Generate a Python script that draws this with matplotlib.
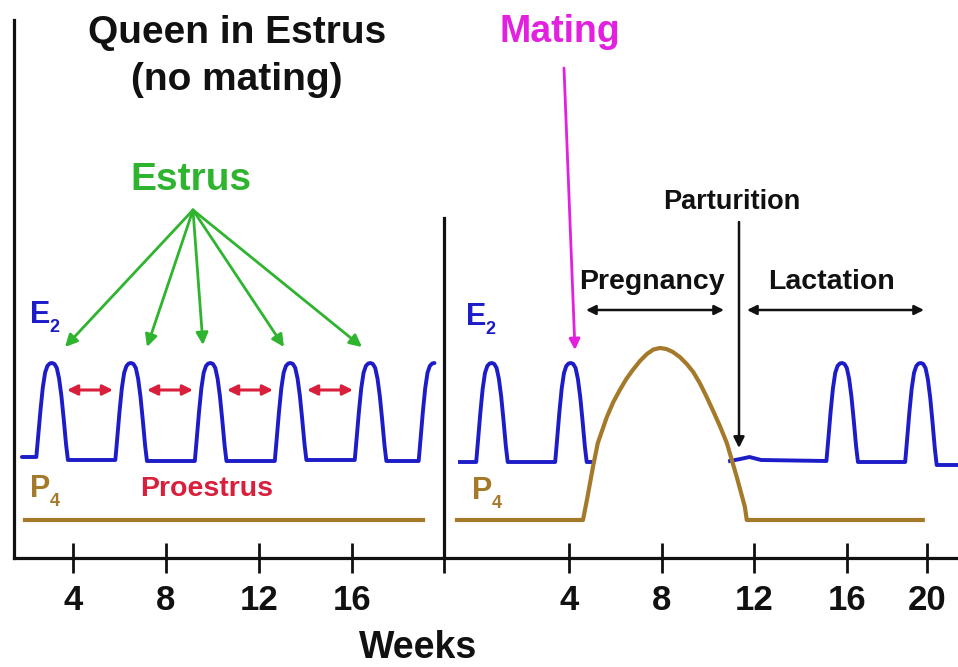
import numpy as np
import matplotlib
matplotlib.use("Agg")
import matplotlib.pyplot as plt

plt.rcParams['font.family'] = ['Liberation Sans', 'DejaVu Sans']
plt.rcParams['font.weight'] = 'bold'

W, H = 958, 667

# ---------------- data ----------------
# hormone level units: arbitrary (baseline E2 ~10, peak ~19.5)
# Left panel (queen in estrus, no mating)
left_e2_start = 1.8
left_e2_end = 19.55
left_e2_peaks = [3.1, 6.5, 9.92, 13.36, 16.8, 19.55]
left_e2_bases = [10.1, 9.8, 9.7, 9.7, 9.8, 9.7, 9.7]
e2_peak_level = 19.5

# Peak profile (offset in weeks, fraction of peak height)
peak_offsets = [-0.68, -0.6, -0.5, -0.4, -0.3, -0.2, -0.1, 0.0, 0.1, 0.2, 0.3, 0.4, 0.5, 0.6, 0.68]
peak_fracs = [0.0, 0.22, 0.5, 0.74, 0.9, 0.97, 0.995, 1.0, 0.99, 0.95, 0.84, 0.66, 0.42, 0.16, 0.0]

left_p4_weeks = [1.94, 19.05]
left_p4_level = [3.8, 3.8]

# Right panel (mating, pregnancy, lactation)
right_e2_seg1 = dict(start=-0.7, end=5.05, peaks=[0.68, 4.09], bases=[9.6, 9.6, 9.6])
right_e2_seg2 = dict(start=10.96, end=20.8, peaks=[15.8, 19.2], bases=[9.7, 9.6, 9.3])
right_e2_extra = [(11.4, 9.9), (11.8, 10.1), (12.3, 9.8)]

right_p4_weeks = [-0.83, 4.61, 4.78, 5.04, 5.25, 5.64, 5.92, 6.20, 6.48, 6.76, 7.07,
                  7.37, 7.65, 7.93, 8.21, 8.49, 8.79, 9.09, 9.37, 9.65, 9.93, 10.21,
                  10.52, 10.82, 11.25, 11.60, 11.68, 19.28]
right_p4_level = [3.8, 3.8, 5.8, 9.1, 11.5, 14.1, 15.6, 16.8, 17.9, 18.8, 19.7,
                  20.4, 20.85, 21.0, 20.9, 20.6, 20.1, 19.4, 18.6, 17.5, 16.2, 14.8,
                  13.2, 11.5, 8.1, 5.1, 3.8, 3.8]

left_ticks = [4, 8, 12, 16]
left_ticklabels = ['4', '8', '12', '16']
right_ticks = [4, 8, 12, 16, 19.45]
right_ticklabels = ['4', '8', '12', '16', '20']

left_xlim = (1.46, 19.96)
right_xlim = (-1.39, 20.8)

blue = '#1c1cc8'
tan = '#a47a2a'
green = '#2fb42f'
red = '#d81f3c'
magenta = '#e31fe0'


def build_e2(start, end, peaks, bases, extra=()):
    xs, ys = [start], [bases[0]]
    for i, c in enumerate(peaks):
        for off, fr in zip(peak_offsets, peak_fracs):
            base = bases[i] if off <= 0 else bases[i + 1]
            xs.append(c + off)
            ys.append(base + fr * (e2_peak_level - base))
    for ex, ey in extra:
        xs.append(ex)
        ys.append(ey)
    xs = np.array(xs)
    ys = np.array(ys)
    order = np.argsort(xs, kind='stable')
    xs, ys = xs[order], ys[order]
    m = (xs >= start) & (xs <= end)
    xs, ys = list(xs[m]), list(ys[m])
    if end > xs[-1] + 1e-9:
        xs.append(end)
        ys.append(bases[-1])
    return np.array(xs), np.array(ys)


fig = plt.figure(figsize=(W / 100, H / 100), dpi=100)


def fx(px):
    return px / W


def fy(py):
    return 1 - py / H


ax1 = fig.add_axes([fx(14), fy(558), (444 - 14) / W, (558 - 20) / H])
ax2 = fig.add_axes([fx(444), fy(558), (958 - 444) / W, (558 - 218) / H])
ax1.set_ylim(0, 53.8)
ax2.set_ylim(0, 34.0)
ax1.set_xlim(*left_xlim)
ax2.set_xlim(*right_xlim)

for ax in (ax1, ax2):
    ax.patch.set_alpha(0)
    for s in ('top', 'right'):
        ax.spines[s].set_visible(False)
    for s in ('left', 'bottom'):
        ax.spines[s].set_linewidth(2.3)
        ax.spines[s].set_color('#111111')
    ax.set_yticks([])
    ax.tick_params(axis='x', direction='inout', length=21, width=2.0,
                   colors='#111111', labelsize=25, pad=8)
    ax.spines['bottom'].set_capstyle('projecting')

ax1.set_xticks(left_ticks)
ax1.set_xticklabels(left_ticklabels)
ax2.set_xticks(right_ticks)
ax2.set_xticklabels(right_ticklabels)
ax2.set_xticks([right_xlim[0]], minor=True)
ax2.tick_params(axis='x', which='minor', direction='inout', length=21, width=2.0,
                colors='#111111')
for ax in (ax1, ax2):
    for lab in ax.get_xticklabels():
        lab.set_fontweight('bold')

# ---- curves ----
x, y = build_e2(left_e2_start, left_e2_end, left_e2_peaks, left_e2_bases)
ax1.plot(x, y, color=blue, lw=2.8, solid_joinstyle='round', solid_capstyle='round',
         clip_on=False)
ax1.plot(left_p4_weeks, left_p4_level, color=tan, lw=3.0)

x1, y1 = build_e2(**right_e2_seg1)
x2, y2 = build_e2(**right_e2_seg2, extra=right_e2_extra)
ax2.plot(x1, y1, color=blue, lw=2.8, solid_joinstyle='round')
ax2.plot(x2, y2, color=blue, lw=2.8, solid_joinstyle='round', clip_on=False)
ax2.plot(right_p4_weeks, right_p4_level, color=tan, lw=3.0, solid_joinstyle='round')

# ---------------- annotations (figure pixels) ----------------
def T(px, py, s, size, color='#111111', ha='center', va='center'):
    fig.text(fx(px), fy(py), s, fontsize=size, color=color, ha=ha, va=va,
             fontweight='bold')


def A(x0, y0, x1, y1, color, style='->', lw=2.0, ms=18):
    fig.add_artist(matplotlib.patches.FancyArrowPatch(
        (fx(x0), fy(y0)), (fx(x1), fy(y1)), transform=fig.transFigure,
        arrowstyle=style, mutation_scale=ms, color=color, lw=lw,
        shrinkA=0, shrinkB=0))


T(237, 33, 'Queen in Estrus', 28)
T(237, 80, '(no mating)', 28)
T(191, 180, 'Estrus', 28, green)
T(560, 32, 'Mating', 27, magenta)
T(732, 202, 'Parturition', 19.5)
T(652, 282, 'Pregnancy', 20.5)
T(832, 282, 'Lactation', 20.5)
T(207, 489, 'Proestrus', 20.5, red)
T(418, 648, 'Weeks', 27)

# E2 / P4 labels
for ex, ey in [(40, 315), (476, 317)]:
    T(ex, ey, 'E', 22, blue)
    T(ex + 14, ey + 12, '2', 13, blue)
for px_, py_ in [(40, 489), (482, 491)]:
    T(px_, py_, 'P', 22, tan)
    T(px_ + 15, py_ + 13, '4', 13, tan)

# green estrus arrows
for hx, hy in [(65, 347), (147, 347), (203, 345), (284, 347), (362, 347)]:
    A(193, 210, hx, hy, green, style='-|>', lw=2.0, ms=18)

# red proestrus double arrows
for xa, xb in [(67, 113), (147, 193), (227, 273), (307, 353)]:
    A(xa, 390, xb, 390, red, style='<|-|>', lw=2.2, ms=15)

# mating arrow
A(564, 68, 575, 350, magenta, style='-|>', lw=2.0, ms=16)
# parturition arrow
A(739, 222, 739, 448, '#111111', style='-|>', lw=1.8, ms=16)
# pregnancy / lactation arrows
A(586, 310, 724, 310, '#111111', style='<|-|>', lw=1.8, ms=14)
A(747, 310, 924, 310, '#111111', style='<|-|>', lw=1.8, ms=14)

fig.savefig('out.png', dpi=100)
